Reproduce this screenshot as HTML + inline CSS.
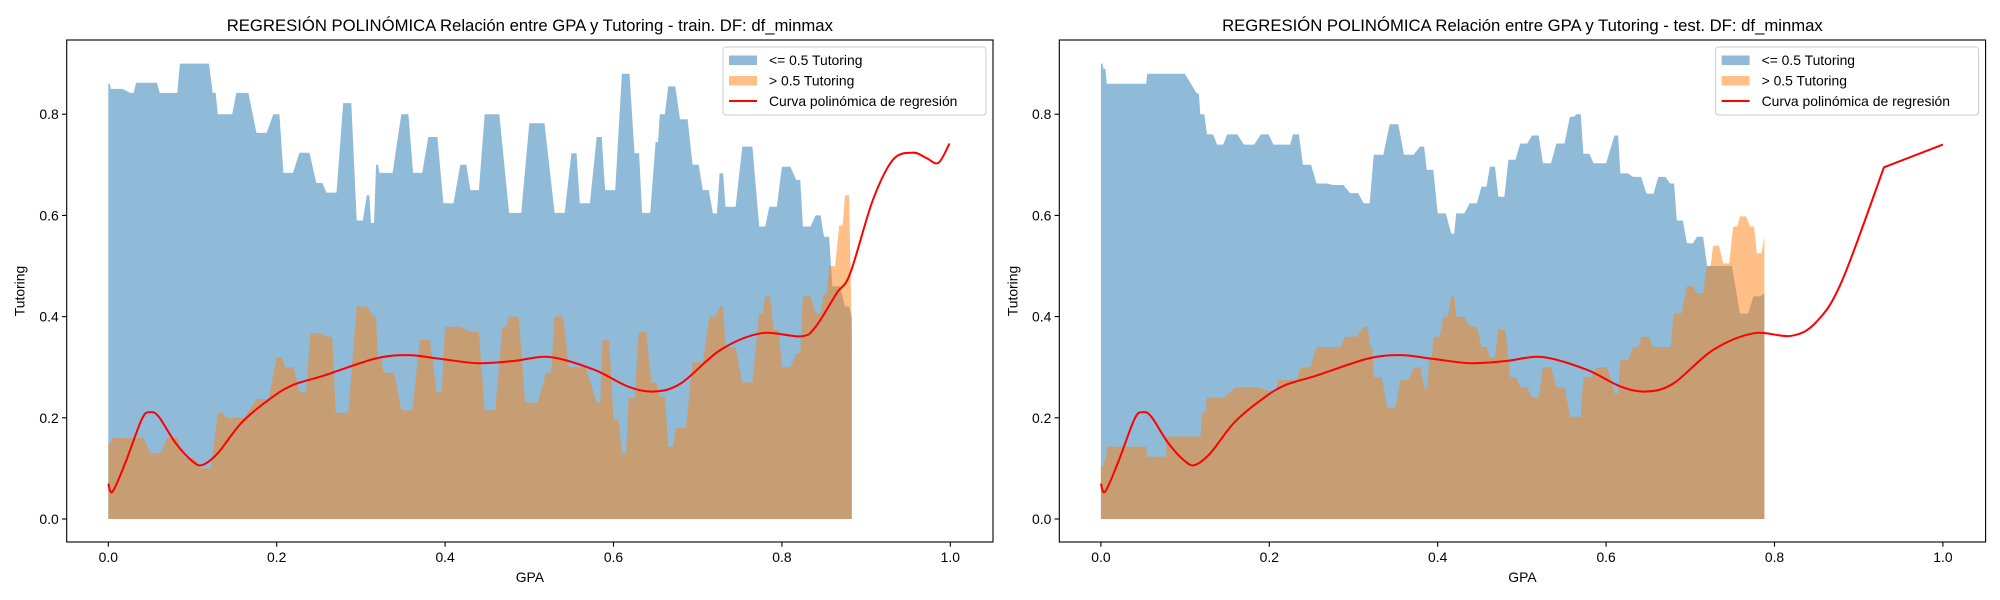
<!DOCTYPE html>
<html><head><meta charset="utf-8"><style>
body{margin:0;background:#fff;}
svg{display:block;font-family:"Liberation Sans","DejaVu Sans",sans-serif;}
</style></head><body>
<svg id="chart" width="2000" height="600" viewBox="0 0 2000 600" xmlns="http://www.w3.org/2000/svg"></svg>
<script>
// ---- data ----
const trainBlueX=[0,0.003,0.026,0.033,0.053,0.061,0.077,0.085,0.113,0.124,0.13,0.14,0.152,0.176,0.196,0.208,0.227,0.247,0.259,0.279,0.295,0.307,0.312,0.318,0.322,0.348,0.362,0.38,0.398,0.418,0.43,0.447,0.476,0.50,0.53,0.55,0.56,0.58,0.59,0.61,0.625,0.634,0.65,0.655,0.665,0.679,0.694,0.706,0.718,0.726,0.733,0.753,0.773,0.785,0.80,0.817,0.825,0.84,0.85,0.86,0.875,0.883];
const trainBlueY=[0.86,0.85,0.842,0.862,0.862,0.842,0.842,0.90,0.90,0.842,0.80,0.80,0.842,0.763,0.80,0.684,0.724,0.664,0.645,0.822,0.59,0.64,0.585,0.70,0.684,0.80,0.684,0.755,0.624,0.70,0.65,0.80,0.605,0.782,0.605,0.723,0.624,0.755,0.65,0.88,0.723,0.605,0.745,0.80,0.855,0.79,0.70,0.65,0.604,0.683,0.617,0.736,0.578,0.617,0.696,0.67,0.578,0.60,0.558,0.46,0.42,0.40];
const trainOrangeX=[0,0.005,0.03,0.05,0.07,0.09,0.11,0.13,0.14,0.176,0.2,0.21,0.227,0.24,0.26,0.27,0.295,0.315,0.32,0.327,0.348,0.37,0.39,0.40,0.43,0.447,0.468,0.476,0.495,0.52,0.53,0.547,0.58,0.587,0.60,0.61,0.618,0.63,0.645,0.655,0.665,0.674,0.694,0.714,0.726,0.733,0.753,0.773,0.78,0.79,0.80,0.817,0.825,0.84,0.85,0.856,0.868,0.875,0.883];
const trainOrangeY=[0.15,0.16,0.16,0.13,0.16,0.12,0.10,0.21,0.20,0.237,0.32,0.30,0.25,0.367,0.36,0.21,0.42,0.40,0.32,0.289,0.215,0.354,0.25,0.38,0.37,0.215,0.38,0.40,0.23,0.289,0.40,0.30,0.23,0.354,0.196,0.13,0.24,0.37,0.27,0.242,0.143,0.18,0.31,0.40,0.42,0.34,0.27,0.406,0.44,0.374,0.30,0.327,0.44,0.406,0.446,0.50,0.58,0.64,0.36];
const testBlueX=[0,0.003,0.007,0.052,0.055,0.078,0.114,0.118,0.126,0.138,0.15,0.17,0.19,0.205,0.22,0.228,0.24,0.256,0.276,0.296,0.312,0.324,0.343,0.36,0.379,0.387,0.40,0.416,0.422,0.438,0.452,0.462,0.472,0.484,0.498,0.512,0.525,0.541,0.557,0.565,0.573,0.585,0.61,0.617,0.632,0.648,0.662,0.676,0.684,0.696,0.708,0.72,0.735,0.759,0.775,0.788];
const testBlueY=[0.90,0.89,0.86,0.86,0.88,0.88,0.841,0.80,0.76,0.74,0.76,0.74,0.76,0.74,0.74,0.76,0.70,0.663,0.66,0.644,0.624,0.72,0.78,0.72,0.736,0.69,0.604,0.564,0.604,0.624,0.657,0.696,0.637,0.71,0.742,0.758,0.703,0.742,0.795,0.80,0.722,0.703,0.758,0.683,0.676,0.643,0.676,0.663,0.59,0.545,0.558,0.50,0.50,0.406,0.44,0.446];
const testOrangeX=[0,0.005,0.007,0.052,0.055,0.077,0.078,0.116,0.12,0.126,0.16,0.205,0.21,0.226,0.237,0.256,0.276,0.29,0.312,0.32,0.324,0.34,0.356,0.372,0.384,0.39,0.395,0.407,0.416,0.422,0.438,0.452,0.462,0.472,0.486,0.498,0.512,0.525,0.541,0.557,0.565,0.573,0.589,0.61,0.617,0.632,0.642,0.656,0.672,0.68,0.696,0.708,0.72,0.727,0.739,0.751,0.759,0.771,0.779,0.788];
const testOrangeY=[0.104,0.12,0.143,0.143,0.123,0.123,0.163,0.163,0.21,0.24,0.26,0.25,0.275,0.275,0.30,0.34,0.34,0.36,0.38,0.34,0.28,0.22,0.275,0.30,0.26,0.32,0.36,0.40,0.44,0.40,0.38,0.34,0.32,0.374,0.28,0.26,0.24,0.30,0.26,0.202,0.202,0.28,0.30,0.248,0.314,0.34,0.36,0.34,0.34,0.406,0.46,0.446,0.50,0.54,0.505,0.578,0.598,0.578,0.525,0.558];
const trainCurveX=[0,0.005,0.02,0.04,0.05,0.06,0.08,0.1,0.112,0.13,0.158,0.19,0.218,0.257,0.317,0.356,0.392,0.438,0.48,0.525,0.577,0.617,0.648,0.68,0.727,0.775,0.823,0.84,0.865,0.881,0.908,0.932,0.956,0.972,0.986,0.999];
const trainCurveY=[0.07,0.054,0.11,0.198,0.211,0.202,0.15,0.114,0.107,0.13,0.19,0.235,0.264,0.284,0.317,0.324,0.317,0.308,0.312,0.32,0.295,0.262,0.252,0.268,0.334,0.367,0.361,0.38,0.446,0.485,0.63,0.71,0.724,0.713,0.704,0.742];
const testCurveX=[0,0.005,0.02,0.04,0.05,0.06,0.08,0.1,0.112,0.13,0.158,0.19,0.218,0.257,0.317,0.356,0.392,0.438,0.48,0.525,0.577,0.617,0.648,0.68,0.727,0.775,0.82,0.85,0.88,0.93,1.0];
const testCurveY=[0.07,0.054,0.11,0.198,0.211,0.202,0.15,0.114,0.107,0.13,0.19,0.235,0.264,0.284,0.317,0.324,0.317,0.308,0.312,0.32,0.295,0.262,0.252,0.268,0.334,0.367,0.362,0.39,0.47,0.695,0.74];
const xTicks=[0,0.2,0.4,0.6,0.8,1.0];
const xTickLabels=["0.0","0.2","0.4","0.6","0.8","1.0"];
const yTicks=[0,0.2,0.4,0.6,0.8];
const yTickLabels=["0.0","0.2","0.4","0.6","0.8"];
const legendLabels=["<= 0.5 Tutoring","> 0.5 Tutoring","Curva polinómica de regresión"];

const NS="http://www.w3.org/2000/svg";
const svg=document.getElementById('chart');
function mk(tag,attrs,parent){const e=document.createElementNS(NS,tag);for(const k in attrs)e.setAttribute(k,attrs[k]);(parent||svg).appendChild(e);return e;}

function panel(ox,tag,title,bx,by,ox2,oy2,cx,cy,linTail){
  const L=66.7+ox,R=993+ox,T=40,B=542;
  const x0=108.3+ox, kx=842, y0=519, ky=506;
  const sx=v=>x0+v*kx, sy=v=>y0-v*ky;
  const g=mk('g',{});
  
  
  function area(xs,ys,col,name){
    let d='M'+sx(xs[0])+','+sy(0);
    for(let i=0;i<xs.length;i++){
      d+=' L'+sx(xs[i]).toFixed(1)+','+sy(ys[i]).toFixed(1);
      if(i<xs.length-1){
        const xm=xs[i]+(xs[i+1]-xs[i])*0.6;
        d+=' L'+sx(xm).toFixed(1)+','+sy(ys[i]).toFixed(1);
      }
    }
    d+=' L'+sx(xs[xs.length-1])+','+sy(0)+' Z';
    const p=mk('path',{d:d,fill:col,'fill-opacity':0.5},g);
    
    
  }
  area(bx,by,'#1f77b4',tag+'-blue-area');
  area(ox2,oy2,'#ff7f0e',tag+'-orange-area');
  const P=cx.map((v,i)=>[sx(v),sy(cy[i])]);
  const n=P.length;
  const splineEnd=n-1-linTail; // last index reached by spline
  let d='M'+P[0][0].toFixed(1)+','+P[0][1].toFixed(1);
  for(let i=0;i<n-1;i++){
    if(i>=splineEnd){d+=' L'+P[i+1][0].toFixed(1)+','+P[i+1][1].toFixed(1);continue;}
    const p0=P[Math.max(0,i-1)],p1=P[i],p2=P[i+1],p3=P[Math.min(splineEnd,i+2)];
    const c1=[p1[0]+(p2[0]-p0[0])/6,p1[1]+(p2[1]-p0[1])/6];
    const c2=[p2[0]-(p3[0]-p1[0])/6,p2[1]-(p3[1]-p1[1])/6];
    d+=' C'+c1[0].toFixed(1)+','+c1[1].toFixed(1)+' '+c2[0].toFixed(1)+','+c2[1].toFixed(1)+' '+p2[0].toFixed(1)+','+p2[1].toFixed(1);
  }
  const c=mk('path',{d:d,fill:'none',stroke:'#ff0000','stroke-width':2},g);
  
  
  const fr=mk('rect',{x:L,y:T,width:R-L,height:B-T,fill:'none',stroke:'#000','stroke-width':1.1},g);
  
  
  xTicks.forEach((t,i)=>{
    mk('line',{x1:sx(t),x2:sx(t),y1:B,y2:B+4.7,stroke:'#000','stroke-width':1.1},g);
    const tx=mk('text',{x:sx(t),y:B+20,'font-size':13.9,'text-anchor':'middle',fill:'#000'},g);
    tx.textContent=xTickLabels[i];
    
    
  });
  yTicks.forEach((t,i)=>{
    mk('line',{x1:L,x2:L-4.7,y1:sy(t),y2:sy(t),stroke:'#000','stroke-width':1.1},g);
    const tx=mk('text',{x:L-8,y:sy(t)+5,'font-size':13.9,'text-anchor':'end',fill:'#000'},g);
    tx.textContent=yTickLabels[i];
    
    
  });
  const tt=mk('text',{x:(L+R)/2,y:31,'font-size':16.7,'text-anchor':'middle',fill:'#000'},g);
  tt.textContent=title;
  
  
  const xl=mk('text',{x:(L+R)/2,y:582,'font-size':13.9,'text-anchor':'middle',fill:'#000'},g);
  xl.textContent='GPA';
  
  
  const yl=mk('text',{x:0,y:0,'font-size':13.9,'text-anchor':'middle',fill:'#000',transform:'translate('+(L-42)+','+((T+B)/2)+') rotate(-90)'},g);
  yl.textContent='Tutoring';
  
  
  const lx=723+ox, ly=47;
  const lg=mk('g',{},g);
  
  
  mk('rect',{x:lx,y:ly,width:263,height:68,rx:3,fill:'#fff','fill-opacity':0.8,stroke:'#ccc','stroke-width':1},lg);
  const cols=['#1f77b4','#ff7f0e'];
  legendLabels.forEach((lab,i)=>{
    const yy=ly+13+i*20.5;
    if(i<2)mk('rect',{x:lx+6,y:yy-4.5,width:28,height:9.5,fill:cols[i],'fill-opacity':0.5},lg);
    else mk('line',{x1:lx+6,x2:lx+34,y1:yy,y2:yy,stroke:'#ff0000','stroke-width':2},lg);
    const t=mk('text',{x:lx+46,y:yy+5,'font-size':13.9,fill:'#000'},lg);
    t.textContent=lab;
    
    
  });
}
panel(0,'train','REGRESIÓN POLINÓMICA Relación entre GPA y Tutoring - train. DF: df_minmax',trainBlueX,trainBlueY,trainOrangeX,trainOrangeY,trainCurveX,trainCurveY,0);
panel(992.6,'test','REGRESIÓN POLINÓMICA Relación entre GPA y Tutoring - test. DF: df_minmax',testBlueX,testBlueY,testOrangeX,testOrangeY,testCurveX,testCurveY,1);
</script>
</body></html>
